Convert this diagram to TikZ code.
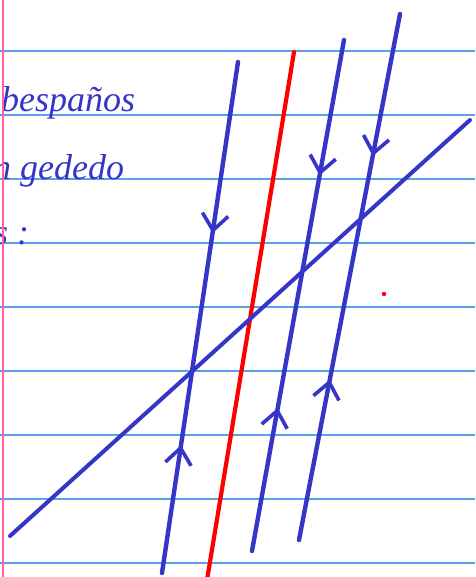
\documentclass[tikz,border=0pt]{standalone}
\usepackage{fontspec}
\newfontfamily\hand{Liberation Serif}
\usetikzlibrary{arrows.meta,decorations.markings}
\definecolor{ink}{HTML}{3535C8}
\definecolor{rule}{HTML}{5AA0F0}
\definecolor{margin}{HTML}{FF5FA5}
\tikzset{
  ruled/.style={rule, line width=1.3pt},
  penline/.style={ink, line width=4.4pt, line cap=round},
  redline/.style={red, line width=4.2pt, line cap=round},
  handtext/.style={ink, anchor=base west, inner sep=0pt, font=\hand\itshape\fontsize{36}{36}\selectfont},
  downat/.style={postaction={decorate, decoration={markings, mark=at position #1 with {\arrow[ink,line width=3.6pt]{Straight Barb[length=16pt,width=26pt]}}}}},
  upat/.style={postaction={decorate, decoration={markings, mark=at position #1 with {\arrowreversed[ink,line width=3.6pt]{Straight Barb[length=16pt,width=26pt]}}}}}
}
\begin{document}
\begin{tikzpicture}[x=1pt,y=-1pt]
\useasboundingbox (0,0) rectangle (475,577);
\clip (0,0) rectangle (475,577);
\fill[white] (0,0) rectangle (475,577);
% ruled lines
\foreach \yy in {51,115,179,243,307,371,435,499,563}
  \draw[ruled] (0,\yy) -- (475,\yy);
% handwritten text
\node[handtext] (t1) at (1,112) {bespaños};
\node[handtext] (t2) at (-7,180) {n gededo};
\node[handtext] (t3) at (-6,244) {s :};
% margin
\draw[margin, line width=1.6pt] (3,0) -- (3,577);
% coordinates
\coordinate (a1) at (238,62);  \coordinate (b1) at (162,573);
\coordinate (ar) at (294,52);  \coordinate (br) at (207,580);
\coordinate (a3) at (344,40);  \coordinate (b3) at (252,551);
\coordinate (a4) at (400,14);  \coordinate (b4) at (299,540);
\coordinate (d1) at (10,536);  \coordinate (d2) at (470,120);
% lines
\draw[penline, downat=0.335, upat=0.75] (a1) -- (b1);
\draw[redline] (ar) -- (br);
\draw[penline, downat=0.265, upat=0.72] (a3) -- (b3);
\draw[penline, downat=0.27, upat=0.695] (a4) -- (b4);
\draw[penline, line width=4pt] (d1) -- (d2);
% dot
\node[circle, fill=red, inner sep=0pt, minimum size=4.5pt] (dot) at (384,294) {};
\end{tikzpicture}
\end{document}
